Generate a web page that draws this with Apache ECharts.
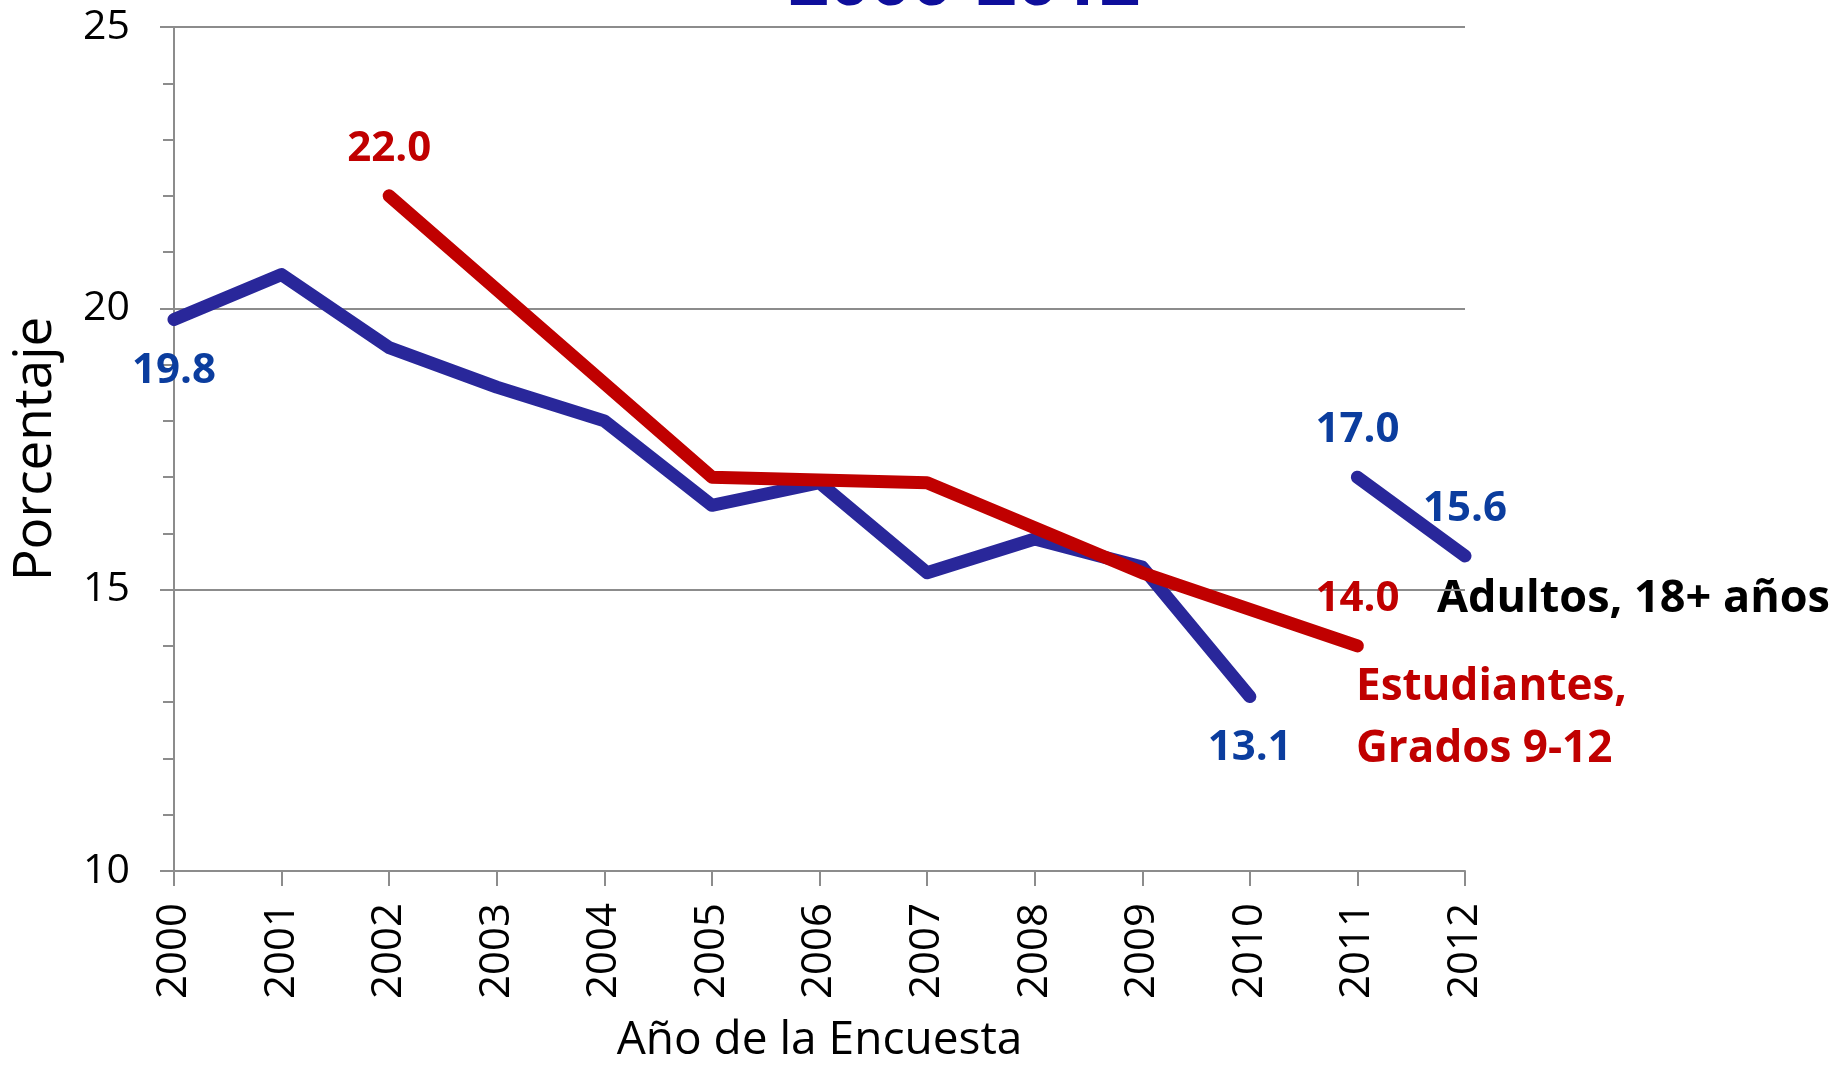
<!DOCTYPE html>
<html>
<head>
<meta charset="utf-8">
<script src="https://cdn.jsdelivr.net/npm/echarts@6/dist/echarts.min.js"></script>
<style>
html, body { margin: 0; padding: 0; background: #fff; }
#chart { width: 1845px; height: 1069px; }
</style>
</head>
<body>
<div id="chart"></div>
<script>
var years = ['2000', '2001', '2002', '2003', '2004', '2005', '2006', '2007', '2008', '2009', '2010', '2011', '2012'];
// adultos 18+, método anterior (2000-2010) y nuevo (2011-2012)
var adultos = [19.8, 20.6, 19.3, 18.6, 18.0, 16.5, 16.9, 15.3, 15.9, 15.4, 13.1, null, null];
var adultosNuevo = [null, null, null, null, null, null, null, null, null, null, null, 17.0, 15.6];
// estudiantes grados 9-12
var estudiantes = [null, null, 22.0, null, null, 17.0, null, 16.9, null, 15.3, null, 14.0, null];
var yTicks = [10, 15, 20, 25];

var AZUL = '#29279A', AZUL_TXT = '#0B3D9E', ROJO = '#C00000';
var FONT = 'Open Sans';

var withLabels = function (values, shown, pos, color, dist) {
    return values.map(function (v, i) {
        if (v === null) return '-';
        if (shown.indexOf(i) < 0) return v;
        return {
            value: v,
            label: {
                show: true, position: pos, distance: dist, color: color,
                fontFamily: FONT, fontWeight: 'bold', fontSize: 42,
                formatter: function (p) { return p.value.toFixed(1); }
            }
        };
    });
};

var lineSeries = function (name, data, color, connect) {
    return {
        name: name,
        type: 'line',
        data: data,
        connectNulls: connect,
        symbol: 'circle',
        symbolSize: 0.1,
        showSymbol: true,
        clip: true,
        silent: true,
        itemStyle: { color: color },
        lineStyle: { color: color, width: 13, cap: 'round', join: 'round' },
        label: { show: false }
    };
};

var myChart = echarts.init(document.getElementById('chart'));
myChart.setOption({
    animation: false,
    backgroundColor: '#fff',
    grid: { left: 174, right: 380, top: 27, bottom: 190, containLabel: false },
    xAxis: {
        type: 'category',
        data: years,
        boundaryGap: false,
        name: 'Año de la Encuesta',
        nameLocation: 'middle',
        nameGap: 147,
        nameTextStyle: { fontFamily: FONT, fontSize: 46, color: '#000', verticalAlign: 'top' },
        axisLine: { lineStyle: { color: '#8c8c8c', width: 2 } },
        axisTick: { show: true, length: 15, alignWithLabel: true, lineStyle: { color: '#8c8c8c', width: 2 } },
        axisLabel: { rotate: 90, margin: 32, fontFamily: FONT, fontSize: 42, color: '#000' },
        splitLine: { show: false }
    },
    yAxis: {
        type: 'value',
        min: yTicks[0],
        max: yTicks[yTicks.length - 1],
        interval: yTicks[1] - yTicks[0],
        name: 'Porcentaje',
        nameLocation: 'middle',
        nameGap: 112,
        nameTextStyle: { fontFamily: FONT, fontSize: 53, color: '#000' },
        axisLine: { show: true, lineStyle: { color: '#8c8c8c', width: 2 } },
        axisTick: { show: true, length: 14, lineStyle: { color: '#8c8c8c', width: 2 } },
        minorTick: { show: true, splitNumber: 5, length: 11, lineStyle: { color: '#8c8c8c', width: 2 } },
        axisLabel: { margin: 44, fontFamily: FONT, fontSize: 41, color: '#000' },
        splitLine: { show: true, lineStyle: { color: '#8c8c8c', width: 2 } }
    },
    graphic: [
        {
            type: 'text', left: 788, top: -52,
            style: { text: '2000-2012', fill: '#0E0E9B', font: 'bold 72px "Open Sans"' }
        },
        {
            type: 'text', left: 1437, top: 577,
            style: { text: 'Adultos, 18+ años', fill: '#000', font: 'bold 45px "Open Sans"' }
        },
        {
            type: 'text', left: 1356, top: 656,
            style: { text: 'Estudiantes,\nGrados 9-12', fill: ROJO, font: 'bold 44px "Open Sans"', lineHeight: 62 }
        }
    ],
    series: [
        lineSeries('Adultos', withLabels(adultos, [0, 10], 'bottom', AZUL_TXT, 30), AZUL, false),
        lineSeries('Adultos (nuevo)', withLabels(adultosNuevo, [11, 12], 'top', AZUL_TXT, 26), AZUL, false),
        lineSeries('Estudiantes', withLabels(estudiantes, [2, 11], 'top', ROJO, 26), ROJO, true)
    ]
});
</script>
</body>
</html>
